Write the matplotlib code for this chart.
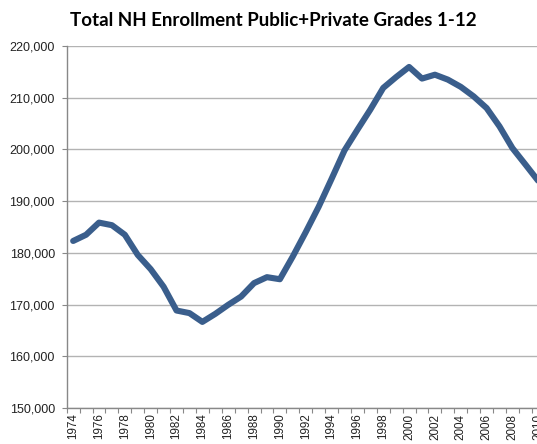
#!/usr/bin/env python3
"""Total NH enrollment, public + private, grades 1-12 (line chart)."""

import matplotlib

matplotlib.use("Agg")
import matplotlib.pyplot as plt
from matplotlib.ticker import FuncFormatter, FixedLocator

years = list(range(1974, 2011))
enrollment = [
    182300, 183500, 185850, 185350, 183500, 179600, 176850, 173450, 168850, 168350,
    166650, 168200, 169950, 171550, 174150, 175300, 174900, 179300, 184000, 188900,
    194300, 199800, 203800, 207700, 211900, 214000, 215950, 213700, 214450, 213500,
    212100, 210250, 208000, 204450, 200250, 197100, 193900,
]
title = "Total NH Enrollment Public+Private Grades 1-12"

W, H = 537, 444
fig = plt.figure(figsize=(W / 100, H / 100), dpi=100)

n = len(years)
cat_w = 12.92  # px per category
left, bottom, top = 66.7, 408.0, 46.0
ax = fig.add_axes([left / W, 1 - bottom / H, n * cat_w / W, (bottom - top) / H])

x = list(range(n))
ax.plot(x, enrollment, color="#3a5e8c", linewidth=4.4, solid_capstyle="round",
        solid_joinstyle="round", zorder=3)

ax.set_xlim(-0.5, n - 0.5)
ax.set_ylim(150000, 220000)
ax.set_yticks(range(150000, 220001, 10000))
ax.yaxis.set_major_formatter(FuncFormatter(lambda v, _: f"{int(v):,}"))
ax.grid(True, axis="y", color="#b3b3b3", linewidth=1.0, zorder=0)

# category boundary ticks, labels every other year
ax.xaxis.set_minor_locator(FixedLocator([i - 0.5 for i in range(n + 1)]))
ax.set_xticks(x[::2])
ax.set_xticklabels([str(y) for y in years[::2]], rotation=90, fontsize=8.4,
                   family="Liberation Sans", color="#222222")
ax.tick_params(axis="x", which="major", length=0, pad=4)
ax.tick_params(axis="x", which="minor", length=3.5, color="#888888", width=0.8)
ax.tick_params(axis="y", length=3.5, color="#888888", width=0.8, labelsize=9,
               pad=5, labelcolor="#222222")
for lab in ax.get_yticklabels():
    lab.set_family("Liberation Sans")

for side in ("top", "right"):
    ax.spines[side].set_visible(False)
for side in ("left", "bottom"):
    ax.spines[side].set_color("#888888")
    ax.spines[side].set_linewidth(1.0)

fig.text(273 / W, 1 - 21 / H, title, ha="center", va="center", fontsize=13.5,
         fontweight="bold", family="Lato")

fig.savefig("out.png", dpi=100)
